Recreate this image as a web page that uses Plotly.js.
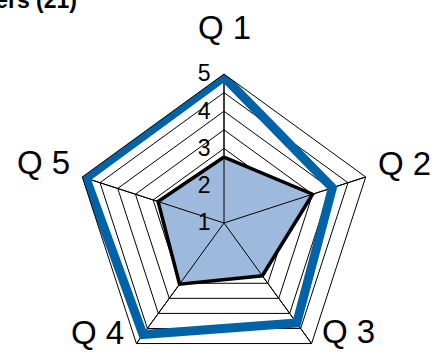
<!DOCTYPE html>
<html>
<head>
<meta charset="utf-8">
<script src="https://cdn.plot.ly/plotly-3.0.1.min.js"></script>
<style>html,body{margin:0;padding:0;overflow:hidden;background:#fff;}#chart{width:434px;height:400px;}</style>
</head>
<body>
<div id="chart"></div>
<script>
var categories = ['Q 1', 'Q 2', 'Q 3', 'Q 4', 'Q 5'];
var groupValues = [2.77, 3.5, 2.75, 3.03, 2.86];
var bestValues = [4.92, 4.06, 4.32, 4.7, 4.9];
var radialTickVals = [1, 1.5, 2, 2.5, 3, 3.5, 4, 4.5, 5];
var radialTickText = ['1', '', '2', '', '3', '', '4', '', '5'];
var chartTitle = 'Answers (21)';

function closeLoop(a) { return a.concat([a[0]]); }

var spokeR = [], spokeT = [];
categories.forEach(function (c) { spokeR.push(1, 5, null); spokeT.push(c, c, c); });

var data = [
  {
    type: 'scatterpolar', r: closeLoop(groupValues), theta: closeLoop(categories),
    mode: 'lines', fill: 'toself', fillcolor: '#9db9dc',
    line: { color: '#000000', width: 3.5 }, hoverinfo: 'skip', showlegend: false
  },
  {
    type: 'scatterpolar', r: spokeR, theta: spokeT, mode: 'lines',
    line: { color: '#000000', width: 1 }, hoverinfo: 'skip', showlegend: false, connectgaps: false
  },
  {
    type: 'scatterpolar', r: closeLoop(bestValues), theta: closeLoop(categories),
    mode: 'lines', line: { color: '#0063a8', width: 9 }, hoverinfo: 'skip', showlegend: false
  }
];

// plot area in pixels: x 75..373, y 74..372 (layout height 400, window 354)
function px(x) { return (x - 75) / 298; }
function py(y) { return (372 - y) / 298; }
var labelPx = [[224, 27], [404.5, 163], [348.5, 331], [97.5, 332], [43.5, 162]];
var annotations = categories.map(function (c, i) {
  return {
    text: c, xref: 'paper', yref: 'paper', x: px(labelPx[i][0]), y: py(labelPx[i][1]),
    xanchor: 'center', yanchor: 'middle', showarrow: false,
    font: { size: 33, color: '#000000', family: 'Liberation Sans, Arial, sans-serif' }
  };
});

var layout = {
  width: 434, height: 400,
  margin: { l: 75, r: 61, t: 74, b: 28 },
  paper_bgcolor: '#ffffff',
  font: { family: 'Liberation Sans, Arial, sans-serif', color: '#000000' },
  title: {
    text: '<b>' + chartTitle + '</b>', font: { size: 23, color: '#000000' },
    xref: 'container', yref: 'container', x: 77 / 434, xanchor: 'right',
    y: 1, yanchor: 'middle'
  },
  annotations: annotations,
  polar: {
    bgcolor: '#ffffff',
    gridshape: 'linear',
    domain: { x: [0, 1], y: [0, 1] },
    radialaxis: {
      range: [1, 5], angle: 90, tickangle: 90,
      tickvals: radialTickVals, ticktext: radialTickText,
      tickfont: { size: 23, color: '#000000' },
      showline: false, ticks: 'outside', ticklen: 5, tickcolor: 'rgba(0,0,0,0)',
      gridcolor: '#000000', gridwidth: 1,
      side: 'counterclockwise'
    },
    angularaxis: {
      rotation: 90, direction: 'clockwise', showticklabels: false,
      linecolor: '#000000', linewidth: 1, showline: true,
      gridcolor: '#000000', gridwidth: 1, ticks: ''
    }
  }
};

Plotly.newPlot('chart', data, layout, { displayModeBar: false, staticPlot: true });
</script>
</body>
</html>
